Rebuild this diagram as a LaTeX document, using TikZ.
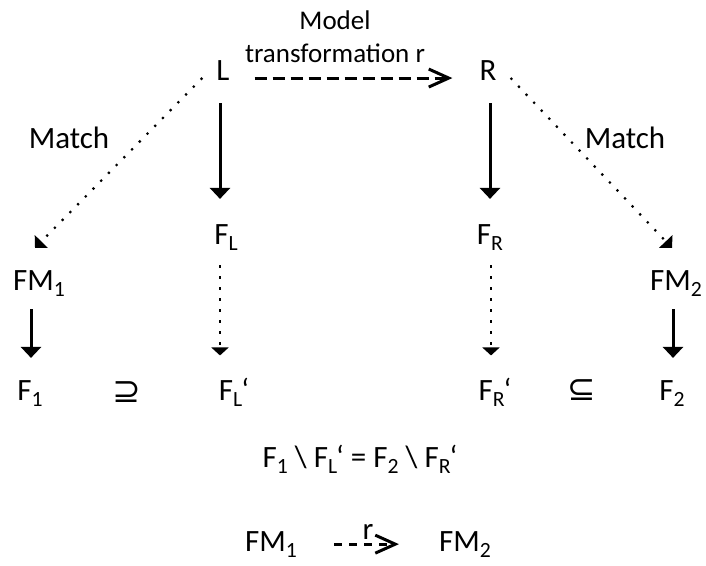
\documentclass[tikz,border=0pt]{standalone}
\usepackage{fontspec}
\setmainfont{Carlito}
\newfontfamily\relfont{DejaVu Sans}
\usetikzlibrary{arrows.meta}
\newcommand{\lo}[1]{\raisebox{-0.2em}{\scalebox{0.7}{#1}}}

\begin{document}
\begin{tikzpicture}[x=1pt,y=-1pt,lbl/.style={anchor=base,inner sep=1pt,font=\fontsize{31}{37}\selectfont},note/.style={inner sep=1pt,align=center,font=\fontsize{27}{33}\selectfont},rel/.style={inner sep=0pt,font=\relfont\fontsize{34}{40}\selectfont},fwd/.style={-{Triangle[length=11pt,width=20pt]},line width=3pt},dotfwd/.style={-{Triangle[length=8pt,width=17pt]},line width=2.2pt,dash pattern=on 2.2pt off 8.8pt},matchline/.style={-{Triangle[length=9pt,width=18pt]},line width=2.2pt,dash pattern=on 2.2pt off 8.8pt},dashfwd/.style={-{Straight Barb[length=20pt,width=18pt]},line width=3pt,dash pattern=on 12pt off 6pt}]
\useasboundingbox (0,0) rectangle (706,565);
\node[lbl] (L) at (223,80) {L}; \node[lbl] (R) at (488,80) {R};
\node[note] (model) at (335,37) {Model\\transformation r};
\draw[dashfwd,shorten <=24pt,shorten >=26pt] ([yshift=-8pt]L.east)--([yshift=-8pt]R.west);
\node[lbl] (matchl) at (69,148) {Match}; \node[lbl] (matchr) at (625,148) {Match};
\node[lbl] (FL) at (226,244) {F\lo{L}}; \node[lbl] (FR) at (490,244) {F\lo{R}};
\draw[fwd,shorten <=22pt,shorten >=24pt] ([xshift=-3pt]L.south)--([xshift=-6pt]FL.north); \draw[fwd,shorten <=22pt,shorten >=24pt] ([xshift=2pt]R.south)--(FR.north);
\node[lbl] (FMa) at (39,290) {FM\lo{1}}; \node[lbl] (FMb) at (676,290) {FM\lo{2}};
\draw[matchline] ([xshift=-13pt,yshift=2pt]L.base west)--([xshift=-4pt,yshift=21pt]FMa.north); \draw[matchline] ([xshift=13pt,yshift=2pt]R.base east)--([xshift=-4pt,yshift=21pt]FMb.north);
\node[lbl] (Fa) at (30,400) {F\lo{1}}; \node[rel] (sup) at (127,392) {⊇}; \node[lbl] (FLp) at (234,400) {F\lo{L}\kern-1pt‘};
\node[lbl] (FRp) at (495,400) {F\lo{R}\kern-1pt‘}; \node[rel] (sub) at (582,390) {⊆}; \node[lbl] (Fb) at (672,400) {F\lo{2}};
\draw[fwd,shorten <=12pt,shorten >=21pt] ([xshift=-8pt]FMa.south)--([xshift=1pt]Fa.north); \draw[fwd,shorten <=12pt,shorten >=21pt] ([xshift=-3pt]FMb.south)--([xshift=1pt]Fb.north);
\draw[dotfwd,shorten <=14pt,shorten >=21pt] ([xshift=-6pt]FL.south)--([xshift=-14pt]FLp.north); \draw[dotfwd,shorten <=14pt,shorten >=21pt] ([xshift=1pt]FR.south)--([xshift=-4pt]FRp.north);
\node[lbl] (eq) at (360,467) {F\lo{1} \textbackslash{} F\lo{L}\kern-1pt‘ = F\lo{2} \textbackslash{} F\lo{R}\kern-1pt‘};
\node[lbl] (bFMa) at (271,551) {FM\lo{1}}; \node[lbl] (bFMb) at (465,551) {FM\lo{2}};
\draw[dashfwd,dash pattern=on 8pt off 7pt,shorten <=36pt,shorten >=39pt] (bFMa)--node[above,inner sep=3pt,font=\fontsize{31}{37}\selectfont]{r}(bFMb);
\end{tikzpicture}
\end{document}
